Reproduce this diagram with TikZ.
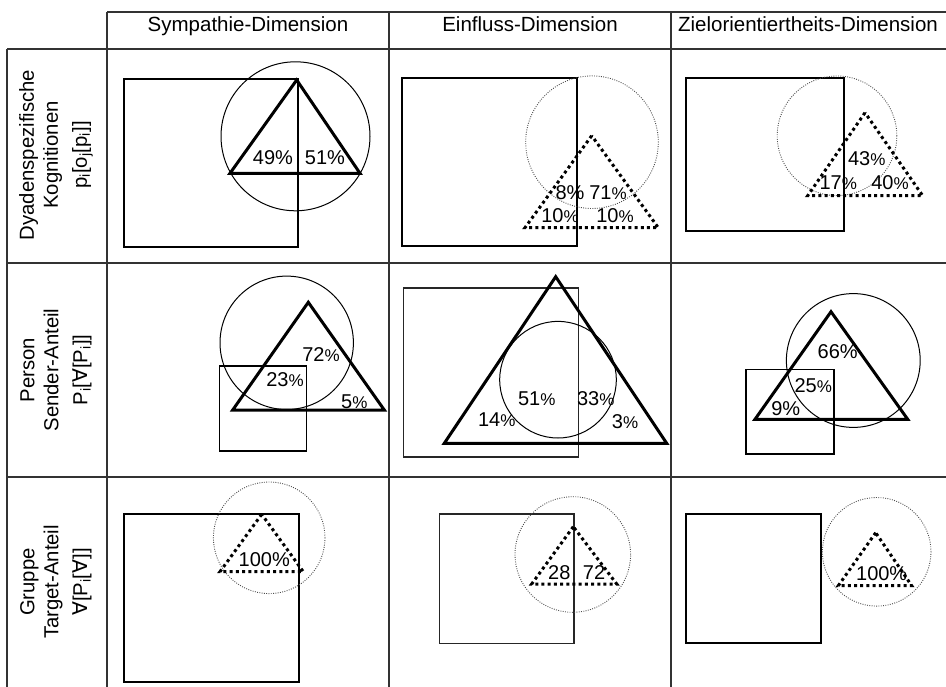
\documentclass[tikz,border=0pt]{standalone}
\usepackage{fontspec}
\setmainfont{Liberation Sans}
\newfontfamily\symfont{DejaVu Sans}
\newcommand{\fa}{{\symfont ∀}}
\newcommand{\pcs}{{\fontsize{17}{17}\selectfont\%}}
\newcommand{\sub}[1]{\textsubscript{#1}}
\begin{document}
\begin{tikzpicture}[x=1pt,y=-1pt,
  gridline/.style={line width=1.2pt, black!80},
  sqthin/.style={draw, line width=1.1pt},
  sqmed/.style={draw, line width=1.6pt, black!85},
  sqthick/.style={draw, line width=2pt},
  circ/.style={draw, line width=1pt},
  dcirc/.style={draw, line width=0.9pt, black!70, dash pattern=on 0.9pt off 1.4pt},
  tri/.style={draw, line width=3pt, line join=miter},
  dtri/.style={draw, line width=3pt, dash pattern=on 3pt off 3.2pt},
  lbl/.style={font=\fontsize{20}{22}\selectfont, inner sep=0pt},
  head/.style={font=\fontsize{20.5}{23}\selectfont, inner sep=0pt, anchor=base},
  rowlbl/.style={font=\fontsize{20.3}{24}\selectfont, rotate=90, align=center, inner sep=0pt}]
\useasboundingbox (0,0) rectangle (946,687);
% grid
\coordinate (t1) at (107,12); \coordinate (t2) at (946,12);
\coordinate (h1) at (7,49); \coordinate (h2) at (946,49);
\coordinate (r1) at (7,263); \coordinate (r2) at (946,263);
\coordinate (s1) at (7,477); \coordinate (s2) at (946,477);
\draw[gridline] (t1) -- (t2);
\draw[gridline, line width=1.8pt] (h1) -- (h2);
\draw[gridline] (r1) -- (r2);
\draw[gridline] (s1) -- (s2);
\coordinate (v0a) at (7,49); \coordinate (v0b) at (7,687);
\coordinate (v1a) at (107,12); \coordinate (v1b) at (107,687);
\coordinate (v2a) at (389,12); \coordinate (v2b) at (389,687);
\coordinate (v3a) at (671,12); \coordinate (v3b) at (671,687);
\draw[gridline] (v0a) -- (v0b);
\draw[gridline] (v1a) -- (v1b);
\draw[gridline] (v2a) -- (v2b);
\draw[gridline] (v3a) -- (v3b);
% headers
\node[head] (hA) at (248,32) {Sympathie-Dimension};
\node[head] (hB) at (530,32) {Einfluss-Dimension};
\node[head] (hC) at (808,32) {Zielorientiertheits-Dimension};
% row labels
\node[rowlbl] (rA) at (56,155) {Dyadenspezifische\\Kognitionen\\[5pt]p\sub{i}[o\sub{j}[p\sub{i}]]};
\node[rowlbl] (rB) at (56,370) {Person\\Sender-Anteil\\[5pt]P\sub{i}[\fa[P\sub{i}]]};
\node[rowlbl] (rC) at (56,582) {Gruppe\\Target-Anteil\\[5pt]\fa[P\sub{i}[\fa]]};
% ---- cell 1,1
\draw[sqthin] (124,79) rectangle (298,247);
\draw[circ] (295.5,136.3) circle[radius=74.5pt];
\draw[tri] (296.7,80) -- (230,173.3) -- (360,173.3) -- cycle;
\node[lbl] (a1) at (273,158) {49\%};
\node[lbl] (a2) at (325,158) {51\%};
% ---- cell 1,2
\draw[sqthick] (401.7,78.3) rectangle (576.7,246);
\draw[dcirc] (592,142.2) circle[radius=66.3pt];
\draw[dtri] (591.7,135.7) -- (525,227.7) -- (658.3,227.7) -- cycle;
\node[lbl] (b1) at (570,193) {8\%};
\node[lbl] (b2) at (608,193) {71\pcs};
\node[lbl] (b3) at (560,216) {10\pcs};
\node[lbl] (b4) at (615,216) {10\pcs};
% ---- cell 1,3
\draw[sqthick] (685.7,78.3) rectangle (844.3,230.7);
\draw[dcirc] (837,135.8) circle[radius=59.8pt];
\draw[dtri] (865,112.7) -- (807.7,195.7) -- (922.7,195.7) -- cycle;
\node[lbl] (c1) at (866.7,159) {43\pcs};
\node[lbl] (c2) at (838.3,182.3) {17\pcs};
\node[lbl] (c3) at (890,182.3) {40\pcs};
% ---- cell 2,1
\draw[circ] (286.7,342.8) circle[radius=66.7pt];
\draw[tri] (308.3,302.3) -- (232.7,410) -- (384.3,410) -- cycle;
\draw[sqthin] (219.3,366) rectangle (306.7,451);
\node[lbl] (d1) at (321,354.3) {72\pcs};
\node[lbl] (d2) at (285,380) {23\pcs};
\node[lbl] (d3) at (354.3,401.7) {5\pcs};
% ---- cell 2,2
\draw[sqmed] (403.3,288.3) rectangle (578.3,456.7);
\draw[tri] (555.7,276.7) -- (444.3,443.3) -- (666.7,443.3) -- cycle;
\draw[circ] (558,379.7) circle[radius=58.3pt];
\node[lbl] (e1) at (536.7,398.3) {51\pcs};
\node[lbl] (e2) at (595.7,398.3) {33\pcs};
\node[lbl] (e3) at (496.7,420) {14\pcs};
\node[lbl] (e4) at (625,421.7) {3\pcs};
% ---- cell 2,3
\draw[circ] (853.3,360.5) circle[radius=66.9pt];
\draw[tri] (831,311.7) -- (755,419.3) -- (907.7,419.3) -- cycle;
\draw[sqthin] (746,369.3) rectangle (834,454);
\node[lbl] (f1) at (837.7,351.7) {66\%};
\node[lbl] (f2) at (813.3,386) {25\pcs};
\node[lbl] (f3) at (785.7,409) {9\%};
% ---- cell 3,1
\draw[sqthick] (124.3,514) rectangle (299.3,682.3);
\draw[dcirc] (269.2,537.8) circle[radius=55.8pt];
\draw[dtri] (261.7,514.3) -- (220,571.7) -- (303.3,571.7) -- cycle;
\node[lbl] (g1) at (264.3,559.3) {100\%};
% ---- cell 3,2
\draw[sqmed] (439.3,514) rectangle (574,643.3);
\draw[dcirc] (572.8,554.5) circle[radius=57.8pt];
\draw[dtri] (573.3,526.7) -- (531.7,584) -- (616.7,584) -- cycle;
\node[lbl] (h1n) at (559.3,572.7) {28};
\node[lbl] (h2n) at (594,572.7) {72};
% ---- cell 3,3
\draw[sqthick] (686,514) rectangle (820.7,643.3);
\draw[dcirc] (876.7,551.8) circle[radius=54.3pt];
\draw[dtri] (875.7,532.7) -- (838.3,585.7) -- (911.7,585.7) -- cycle;
\node[lbl] (i1) at (881.7,573.3) {100\%};
\end{tikzpicture}
\end{document}
